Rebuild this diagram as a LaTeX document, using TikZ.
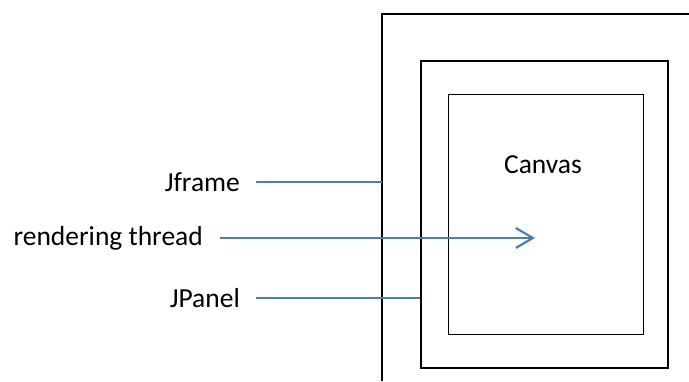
\documentclass[tikz,border=0pt]{standalone}
\usepackage{fontspec}
\setmainfont{Carlito}
\usetikzlibrary{positioning,arrows.meta}
\definecolor{linkblue}{RGB}{74,126,187}

\begin{document}
\begin{tikzpicture}[x=1pt,y=-1pt,
    lbl/.style={font=\fontsize{27.5}{33}\selectfont,inner sep=0pt},
    link/.style={linkblue,line width=2.2pt},
    box/.style={draw,line width=1.8pt,anchor=north west,inner sep=0pt}]
  \useasboundingbox (0,0) rectangle (689,381);
  % frame, panel and canvas
  \draw[line width=2.2pt] (382,381) -- (382,14) -- (689,14);
  \node[box,minimum width=247pt,minimum height=307pt] (panel) at (420,60) {};
  \node[box,line width=1.3pt,minimum width=195pt,minimum height=240pt] (canvas) at (448,94) {};
  \node[lbl] (canvastxt) at (543,165) {Canvas};
  % labels
  \node[lbl,anchor=east] (jframe) at (240,182) {Jframe};
  \node[lbl,anchor=east] (thread) at (203,238) {rendering thread};
  \node[lbl,anchor=east] (jpanel) at (240,298) {JPanel};
  \coordinate (jf) at (382,182);
  \coordinate (tip) at (535,238);
  \coordinate (jp) at (panel.west |- 0,298);
  % connectors
  \draw[link] ([xshift=16pt]jframe.east) -- (jf);
  \draw[link,-{Straight Barb[length=17pt,width=20pt]}] ([xshift=17pt]thread.east) -- (tip);
  \draw[link] ([xshift=16pt]jpanel.east) -- (jp);
\end{tikzpicture}
\end{document}
